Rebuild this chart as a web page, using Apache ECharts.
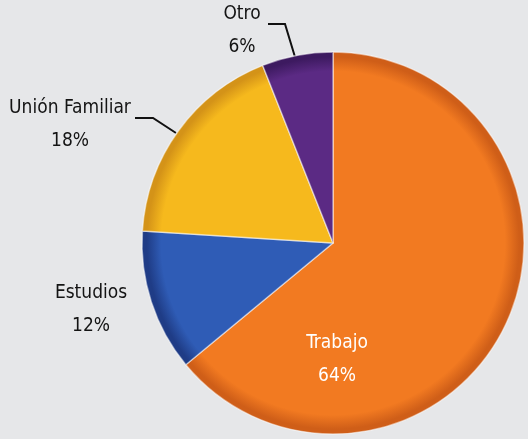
<!DOCTYPE html>
<html>
<head>
<meta charset="utf-8">
<script src="https://cdn.jsdelivr.net/npm/echarts@6/dist/echarts.min.js"></script>
<style>
  html, body { margin: 0; padding: 0; background: #e6e7e9; }
  #chart { width: 528px; height: 439px; }
</style>
</head>
<body>
<div id="chart"></div>
<script>
// datos del gráfico
const categories = ['Trabajo', 'Estudios', 'Unión Familiar', 'Otro'];
const values = [64, 12, 18, 6];
const sliceColors = [
    ['#f27a21', '#cf5e18'],
    ['#2f5cb6', '#1f3c86'],
    ['#f6b91d', '#d49318'],
    ['#5b2a84', '#3d1a60']
];

const cx = 333, cy = 243, R = 191;

// posiciones de las etiquetas (centro del bloque de texto) y líneas guía
const labelPos = [
    { x: 337, y: 360, line: null },
    { x: 91, y: 310, line: null },
    { x: 70, y: 125, line: [[176, 133], [153, 118], [135, 118]] },
    { x: 242, y: 31, line: [[295, 57], [285, 24], [268, 24]] }
];

function sliceFill(i) {
    return {
        type: 'radial', x: cx, y: cy, r: R, global: true,
        colorStops: [
            { offset: 0, color: sliceColors[i][0] },
            { offset: 0.9, color: sliceColors[i][0] },
            { offset: 0.975, color: sliceColors[i][1] },
            { offset: 1, color: sliceColors[i][1] }
        ]
    };
}

const data = categories.map((name, i) => ({
    name: name,
    value: values[i],
    itemStyle: { color: sliceFill(i) },
    label: { color: i === 0 ? '#ffffff' : '#141414' },
    labelLine: { show: !!labelPos[i].line }
}));

const chart = echarts.init(document.getElementById('chart'), null, { renderer: 'canvas' });

chart.setOption({
    backgroundColor: '#e6e7e9',
    animation: false,
    series: [{
        type: 'pie',
        center: [cx, cy],
        radius: R,
        startAngle: 90,
        clockwise: true,
        avoidLabelOverlap: false,
        itemStyle: {
            borderColor: 'rgba(255,255,255,0.5)',
            borderWidth: 1.5
        },
        label: {
            show: true,
            position: 'outside',
            formatter: '{b}\n{d}%',
            fontFamily: '"Liberation Sans Narrow", "DejaVu Sans Condensed", sans-serif',
            fontSize: 19,
            lineHeight: 33,
            align: 'center'
        },
        labelLine: {
            lineStyle: { color: '#111', width: 2 }
        },
        labelLayout: function (params) {
            const p = labelPos[params.dataIndex];
            const out = { x: p.x, y: p.y, align: 'center', verticalAlign: 'middle' };
            if (p.line) out.labelLinePoints = p.line;
            return out;
        },
        data: data
    }]
});
</script>
</body>
</html>
